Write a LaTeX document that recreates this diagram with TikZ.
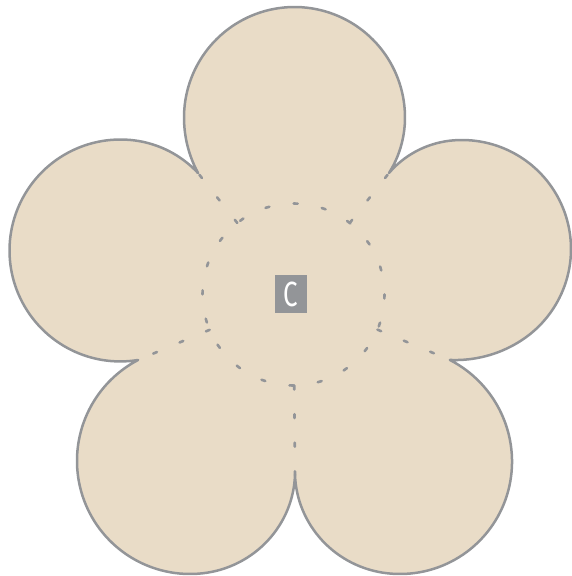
\documentclass[tikz,border=0pt]{standalone}
\usepackage{fontspec}
\newfontfamily\labelfont{Fira Sans}
\usetikzlibrary{calc}
\definecolor{petal}{HTML}{E9DCC7}
\definecolor{edge}{HTML}{939598}
% #1 cx, #2 cy, #3 R, #4 start angle, #5 end angle, #6 start radius, #7 end radius, #8 taper width
\newcommand\petalcurve[8]{-- plot[domain=#4:#5, samples=100, variable=\t]
  ({#1+(#3+(#6-(#3))*max(0,1-(\t-(#4))/#8)*max(0,1-(\t-(#4))/#8)+(#7-(#3))*max(0,1-((#5)-\t)/#8)*max(0,1-((#5)-\t)/#8))*cos(\t)},
   {#2+(#3+(#6-(#3))*max(0,1-(\t-(#4))/#8)*max(0,1-(\t-(#4))/#8)+(#7-(#3))*max(0,1-((#5)-\t)/#8)*max(0,1-((#5)-\t)/#8))*sin(\t)})}
\newcommand\flowerpath{(nTL)
  \petalcurve{294.5}{117.5}{110.5}{150.1}{390.4}{111.3}{109.6}{30}
  \petalcurve{462}{249}{109}{-133.8}{96.2}{105.4}{111.6}{40}
  \petalcurve{400}{462}{112}{-63.9}{172.9}{113.6}{105.8}{75}
  \petalcurve{190}{461}{113}{7.6}{242.8}{105.9}{113.6}{75}
  \petalcurve{120.5}{250.5}{111}{80.9}{315}{110.9}{109.6}{40}
  -- cycle}
\tikzset{
  outline/.style={draw=edge, line width=2.5pt, line join=round},
  hiddenline/.style={draw=edge, line width=2.6pt, line cap=round, dash pattern=on 4pt off 24.6pt},
  labelbox/.style={fill=edge, text=white, minimum width=32pt, minimum height=38pt, inner sep=0pt,
    font=\labelfont\fontsize{35}{35}\selectfont}
}
\begin{document}
\begin{tikzpicture}[x=1pt, y=-1pt]
\useasboundingbox (0,0) rectangle (571,576);
\coordinate (C) at (293.5,294.5);
\coordinate (nTL) at (198,173);
\coordinate (nTR) at (389,173);
\coordinate (nRB) at (450,360);
\coordinate (nB) at (295,475);
\coordinate (nLB) at (138,360);
% flower body
\path[fill=petal] \flowerpath;
% hidden (dashed) lines
\draw[hiddenline] (C) circle[radius=91];
\foreach \n in {nTL,nTR,nRB,nB,nLB}{
  \draw[hiddenline] ($(C)!91pt!(\n)$) -- (\n);
}
% outline
\path[outline] \flowerpath;
\node[labelbox] (c) at (291,294) {\scalebox{0.74}[1]{C}};
\end{tikzpicture}
\end{document}
